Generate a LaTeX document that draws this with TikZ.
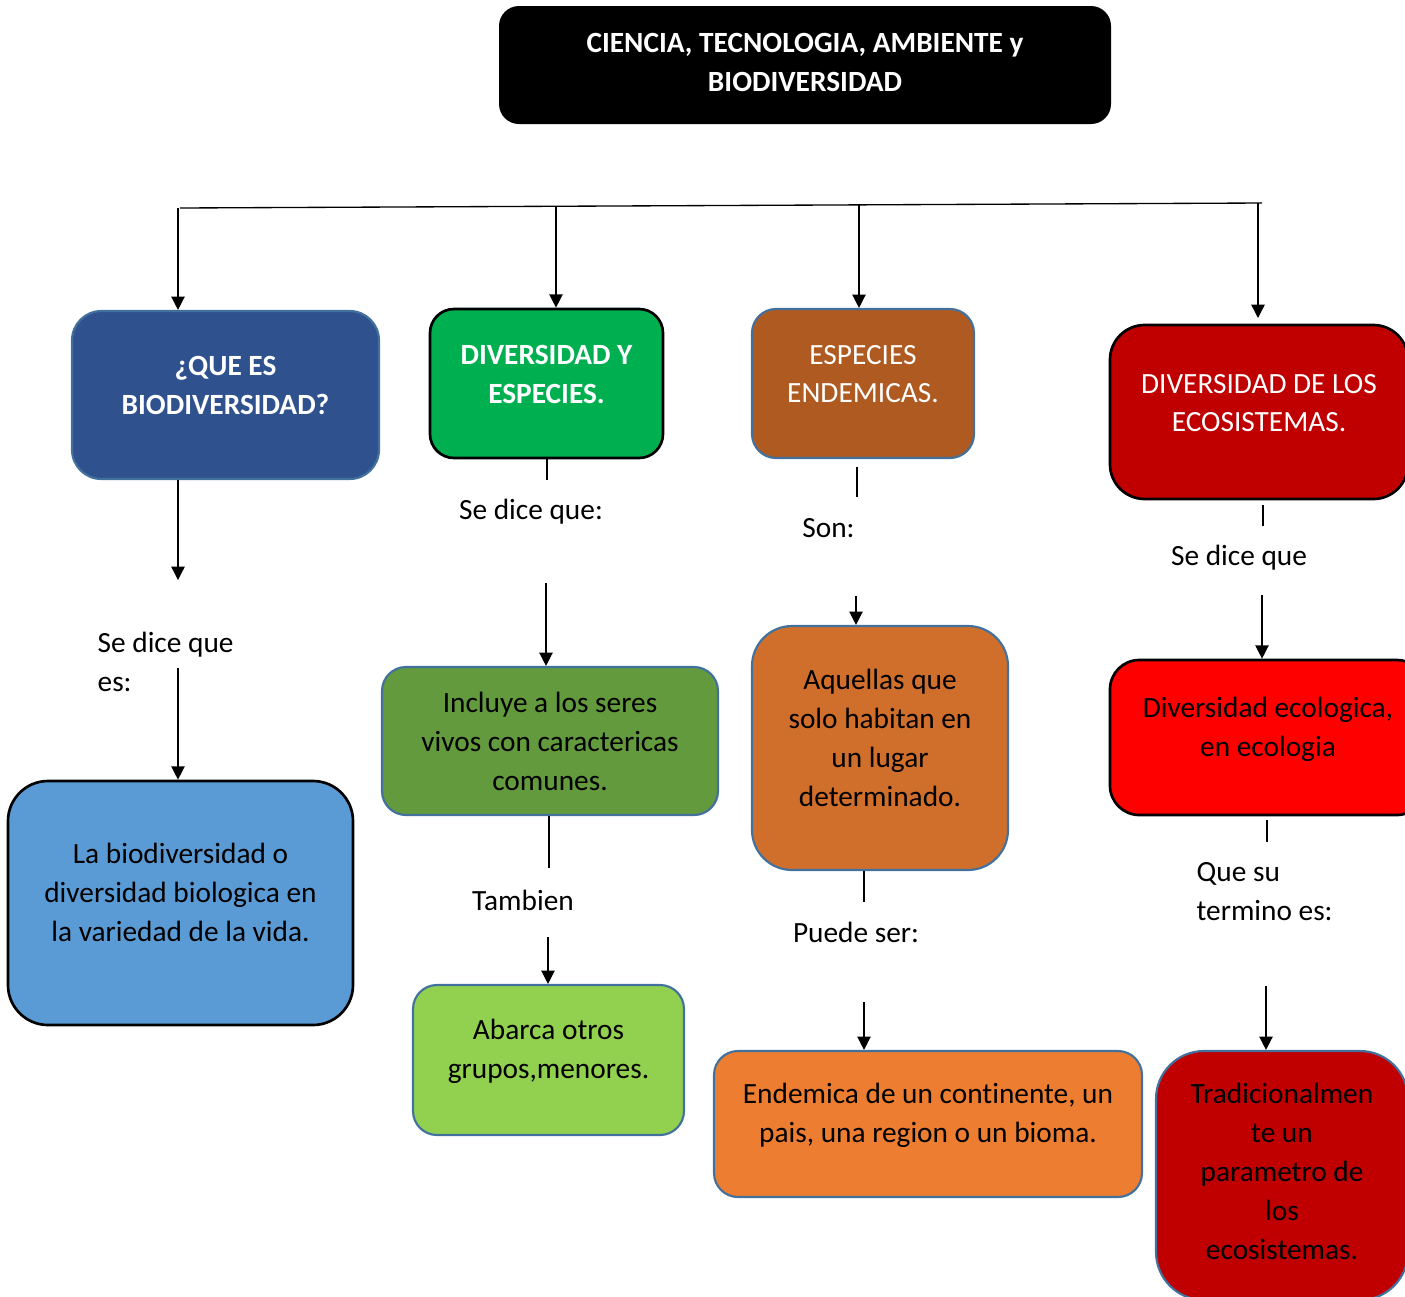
\documentclass[tikz,border=0pt]{standalone}
\usepackage{fontspec}
\setmainfont[Ligatures={NoCommon,NoRequired,NoContextual}]{Carlito}
\usepackage{xcolor}
\usetikzlibrary{arrows.meta}

\definecolor{qblue}{HTML}{2F528F}
\definecolor{lblue}{HTML}{5B9BD5}
\definecolor{bord}{HTML}{41719C}
\definecolor{vgreen}{HTML}{00B050}
\definecolor{dgreen}{HTML}{629A3D}
\definecolor{lgreen}{HTML}{92D050}
\definecolor{brown}{HTML}{AE5A21}
\definecolor{orangeA}{HTML}{D06F2C}
\definecolor{orangeB}{HTML}{ED7D31}
\definecolor{dred}{HTML}{C00000}
\definecolor{vred}{HTML}{FF0000}

\def\u{0.375pt}

\begin{document}
\begin{tikzpicture}[x=0.375pt,y=-0.375pt,
  every node/.style={font=\fontsize{11}{14.6}\selectfont},
  sz/.style 2 args={minimum width=#1*\u,minimum height=#2*\u},
  lift/.style={text depth=#1*\u},
  box/.style={rounded corners=#1,align=center,inner sep=0pt},
  kline/.style={draw=black,line width=1pt},
  bline/.style={draw=bord,line width=0.8pt},
  lbl/.style={inner sep=0pt,align=left},
  arr/.style={-{Triangle[length=5pt,width=5pt]}},
  line width=0.5pt]
\clip (0,0) rectangle (1405,1297);

\node[box=7.5pt,sz={612}{118},lift=6,fill=black,text=white] (title) at (805,65)
  {\bfseries CIENCIA, TECNOLOGIA, AMBIENTE y\\\bfseries BIODIVERSIDAD};

\node[box=11pt,sz={307}{168},lift=19,fill=qblue,bline,text=white] (que) at (225.5,395)
  {\bfseries ¿QUE ES\\\bfseries BIODIVERSIDAD?};
\node[box=15pt,sz={345}{244},lift=22,fill=lblue,kline] (lbox) at (180.5,903)
  {La biodiversidad o\\diversidad biologica en\\la variedad de la vida.};

\node[box=9pt,sz={233}{149},lift=19,fill=vgreen,kline,text=white] (div) at (546.5,383.5)
  {\bfseries DIVERSIDAD Y\\\bfseries ESPECIES.};
\node[box=9pt,sz={336}{148},fill=dgreen,bline] (incl) at (550,741)
  {Incluye a los seres\\vivos con caractericas\\comunes.};
\node[box=9pt,sz={271}{150},lift=22,fill=lgreen,bline] (abar) at (548.5,1060)
  {Abarca otros\\grupos,menores.};

\node[box=9pt,sz={222}{149},lift=19,fill=brown,bline,text=white] (esp) at (863,383.5)
  {ESPECIES\\ENDEMICAS.};
\node[box=15pt,sz={256}{244},lift=20,fill=orangeA,bline] (aque) at (880,748)
  {Aquellas que\\solo habitan en\\un lugar\\determinado.};
\node[box=9pt,sz={428}{146},lift=22,fill=orangeB,bline] (ende) at (928,1124)
  {Endemica de un continente, un\\pais, una region o un bioma.};

\node[box=13pt,sz={298}{174},lift=18,fill=dred,kline,text=white] (ecos) at (1259,412)
  {DIVERSIDAD DE LOS\\ECOSISTEMAS.};
\node[box=11pt,sz={316}{155},lift=21,fill=vred,kline] (ecol) at (1268,737.5)
  {Diversidad ecologica,\\en ecologia};
\node[box=18pt,sz={252}{249},lift=8,fill=dred,bline] (trad) at (1282,1175.5)
  {Tradicionalmen\\te un\\parametro de\\los\\ecosistemas.};

\node[lbl,anchor=west] (l1) at (97,661.5) {Se dice que\\es:};
\node[lbl] (l2) at (531,512) {Se dice que:};
\node[lbl] (l3) at (828.5,528) {Son:};
\node[lbl] (l4) at (523,900) {Tambien};
\node[lbl] (l5) at (856,932) {Puede ser:};
\node[lbl] (l6) at (1239,558) {Se dice que};
\node[lbl,anchor=west] (l7) at (1196,891.5) {Que su\\termino es:};

\coordinate (h1) at (180,208);
\coordinate (h2) at (1262,203);
\coordinate (v1) at (178,208);
\coordinate (v2) at (556,207);
\coordinate (v3) at (859,205);
\coordinate (v4) at (1258,203);
\draw (h1) -- (h2);
\draw[arr] (v1) -- (v1 |- que.north);
\draw[arr] (v2) -- (v2 |- div.north);
\draw[arr] (v3) -- (v3 |- esp.north);
\draw[arr] (v4) -- (1258,318);

\coordinate (p1) at (178,580);
\coordinate (p2) at (178,668);
\draw[arr] (v1 |- que.south) -- (p1);
\draw[arr] (p2) -- (p2 |- lbox.north);

\coordinate (p3) at (547,480);
\coordinate (p4) at (546,583);
\coordinate (p5) at (549,868);
\coordinate (p6) at (548,937);
\draw (p3 |- div.south) -- (p3);
\draw[arr] (p4) -- (p4 |- incl.north);
\draw (p5 |- incl.south) -- (p5);
\draw[arr] (p6) -- (p6 |- abar.north);

\coordinate (p7) at (857,467);
\coordinate (p8) at (857,497);
\coordinate (p9) at (856,596);
\coordinate (p10) at (864,902);
\coordinate (p11) at (864,1002);
\draw (p7) -- (p8);
\draw[arr] (p9) -- (p9 |- aque.north);
\draw (p10 |- aque.south) -- (p10);
\draw[arr] (p11) -- (p11 |- ende.north);

\coordinate (p12) at (1263,505);
\coordinate (p13) at (1263,526);
\coordinate (p14) at (1262,595);
\coordinate (p15) at (1267,820);
\coordinate (p16) at (1267,842);
\coordinate (p17) at (1266,986);
\draw (p12) -- (p13);
\draw[arr] (p14) -- (p14 |- ecol.north);
\draw (p15) -- (p16);
\draw[arr] (p17) -- (p17 |- trad.north);
\end{tikzpicture}
\end{document}
